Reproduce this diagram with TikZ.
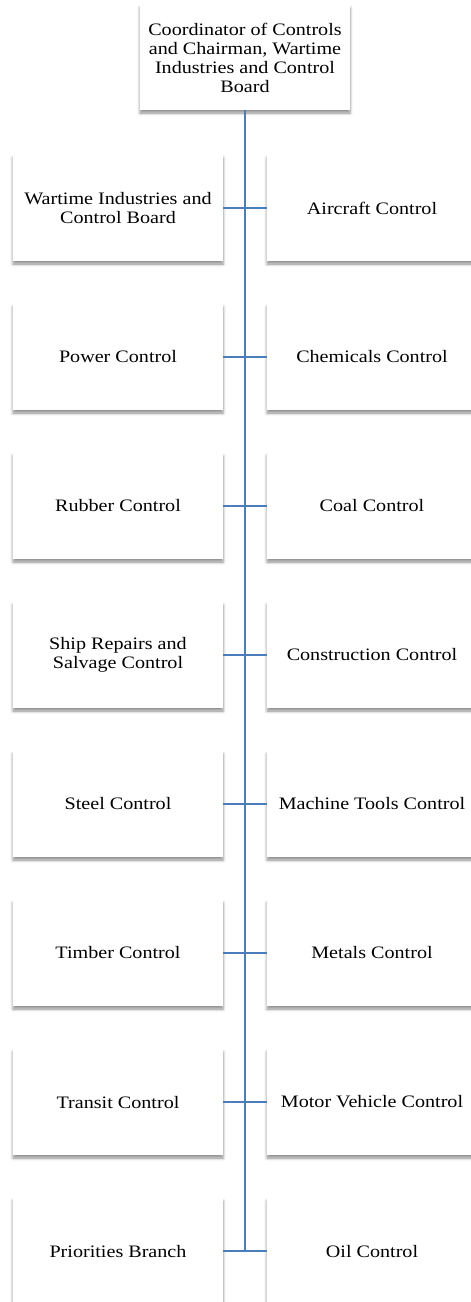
\documentclass[tikz,border=0pt]{standalone}
\usepackage{fontspec}
\setmainfont{Liberation Serif}[FakeStretch=1.15]
\usepackage{tikz}
\usetikzlibrary{shadows.blur}
\definecolor{trunkblue}{HTML}{4A7EBB}
\tikzset{
box/.style = {rectangle, fill=white, minimum width=#1, minimum height=106pt,
              align=center, inner sep=2pt, font=\fontsize{17.5}{19}\selectfont,
              blur shadow={shadow xshift=0pt, shadow yshift=-3pt,
                           shadow blur radius=3pt, shadow opacity=45}},
box/.default = 210pt, % width of the boxes
link/.style = {draw=trunkblue, line width=1.5pt}
}

\begin{document}
\begin{tikzpicture}[x=1pt, y=1pt]
    \useasboundingbox (0,0) rectangle (471,-1302);

    \node[box, minimum height=105pt] (coord) at (245,-57.5) {Coordinator of Controls\\and Chairman, Wartime\\Industries and Control\\Board};

    \node[box] (board)   at (118,-208) {Wartime Industries and\\Control Board};
    \node[box] (power)   at (118,-357) {Power Control};
    \node[box] (rubber)  at (118,-506) {Rubber Control};
    \node[box] (ship)    at (118,-655) {Ship Repairs and\\Salvage Control};
    \node[box] (steel)   at (118,-804) {Steel Control};
    \node[box] (timber)  at (118,-953) {Timber Control};
    \node[box] (transit) at (118,-1102) {Transit Control};
    \node[box] (prio)    at (118,-1251) {Priorities Branch};

    \node[box] (aircraft) at (372,-208) {Aircraft Control};
    \node[box] (chem)     at (372,-357) {Chemicals Control};
    \node[box] (coal)     at (372,-506) {Coal Control};
    \node[box] (constr)   at (372,-655) {Construction Control};
    \node[box] (tools)    at (372,-804) {Machine Tools Control};
    \node[box] (metals)   at (372,-953) {Metals Control};
    \node[box] (motor)    at (372,-1102) {Motor Vehicle Control};
    \node[box] (oil)      at (372,-1251) {Oil Control};

\coordinate (trunkEnd) at (coord.south |- prio.east);
\draw[link] (coord.south) -- (trunkEnd);
\draw[link] (board) -- (aircraft);
\draw[link] (power) -- (chem);
\draw[link] (rubber) -- (coal);
\draw[link] (ship) -- (constr);
\draw[link] (steel) -- (tools);
\draw[link] (timber) -- (metals);
\draw[link] (transit) -- (motor);
\draw[link] (prio) -- (oil);
\end{tikzpicture}
\end{document}
